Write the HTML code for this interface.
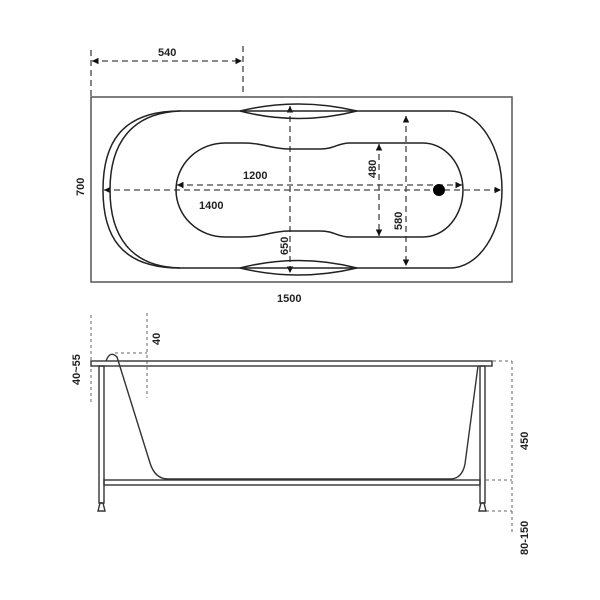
<!DOCTYPE html>
<html><head><meta charset="utf-8"><style>html,body{margin:0;padding:0;background:#fff}svg{display:block}</style></head>
<body>
<svg width="600" height="600" viewBox="0 0 600 600" xmlns="http://www.w3.org/2000/svg" font-family="Liberation Sans, sans-serif" font-weight="bold" font-size="11" fill="none" stroke="#222">
<defs>
<marker id="a" viewBox="0 0 6 6" refX="6" refY="3" markerWidth="5" markerHeight="5" orient="auto-start-reverse"><path d="M0,0 L6,3 L0,6 z" fill="#111" stroke="none"/></marker>
</defs>
<rect x="91" y="97" width="421" height="185" stroke="#555" stroke-width="1.5"/>
<g stroke-dasharray="6,4" stroke="#444" stroke-width="1.3">
<line x1="91" y1="50" x2="91" y2="96"/>
<line x1="243" y1="46" x2="243" y2="96"/>
<line x1="92" y1="61" x2="242" y2="61" marker-start="url(#a)" marker-end="url(#a)"/>
<line x1="104" y1="190" x2="501" y2="190" marker-start="url(#a)" marker-end="url(#a)"/>
<line x1="177" y1="185" x2="462" y2="185" marker-start="url(#a)" marker-end="url(#a)"/>
<line x1="290" y1="106" x2="290" y2="273" marker-start="url(#a)" marker-end="url(#a)"/>
<line x1="379" y1="144" x2="379" y2="236" marker-start="url(#a)" marker-end="url(#a)"/>
<line x1="406" y1="116" x2="406" y2="266" marker-start="url(#a)" marker-end="url(#a)"/>
</g>
<g stroke="#222" stroke-width="1.5">
<path d="M180,111 L450,111 A52,78.5 0 0 1 450,268 L180,268 C120,268 103,235 103,190 C103,145 120,111 180,111 Z"/>
<path d="M180,111 C130,113 110,145 110,190 C110,235 130,267 180,268"/>
<path d="M240,111 Q298,97 357,111 Q298,126 240,111 Z"/>
<path d="M240,268 Q298,253 357,268 Q298,282 240,268 Z"/>
<path d="M225,143 L243,143 C265,143 270,149 290,149 L320,149 C335,149 337,143 350,143 L423,143 A40,47 0 0 1 423,237 L350,237 C337,237 335,231 320,231 L290,231 C270,231 265,237 243,237 L225,237 A49,47 0 0 1 225,143 Z"/>
</g>
<circle cx="439" cy="190" r="6" fill="#000" stroke="none"/>
<g fill="#222" stroke="none">
<text x="158" y="56">540</text>
<text x="243" y="179">1200</text>
<text x="199" y="209">1400</text>
<text x="277" y="302">1500</text>
<text transform="translate(376,178) rotate(-90)">480</text>
<text transform="translate(402,230) rotate(-90)">580</text>
<text transform="translate(288,255) rotate(-90)">650</text>
<text transform="translate(84,196) rotate(-90)">700</text>
</g>
<g stroke="#666" stroke-width="1" stroke-dasharray="3,3">
<line x1="91" y1="315" x2="91" y2="403"/>
<line x1="147" y1="313" x2="147" y2="398"/>
<line x1="115" y1="353" x2="147" y2="353"/>
<line x1="512" y1="361" x2="512" y2="532"/>
<line x1="493" y1="361" x2="512" y2="361"/>
<line x1="486" y1="480" x2="512" y2="480"/>
<line x1="486" y1="511" x2="512" y2="511"/>
</g>
<g stroke="#333" stroke-width="1.4">
<rect x="91" y="361" width="401" height="5"/>
<rect x="99" y="366" width="5" height="137"/>
<rect x="480" y="366" width="5" height="137"/>
<rect x="104" y="480" width="376" height="5"/>
<path d="M98,511 L100,503 L103,503 L105,511 Z"/>
<path d="M479,511 L481,503 L484,503 L486,511 Z"/>
<path d="M106,361 Q110,350 117,357 L150,463 Q155,479 168,479 L450,479 Q462,479 465,464 L478,366"/>
</g>
<g fill="#222" stroke="none">
<text transform="translate(80,385) rotate(-90)">40~55</text>
<text transform="translate(160,345) rotate(-90)">40</text>
<text transform="translate(528,450) rotate(-90)">450</text>
<text transform="translate(528,555) rotate(-90)">80-150</text>
</g>
</svg>
</body></html>
